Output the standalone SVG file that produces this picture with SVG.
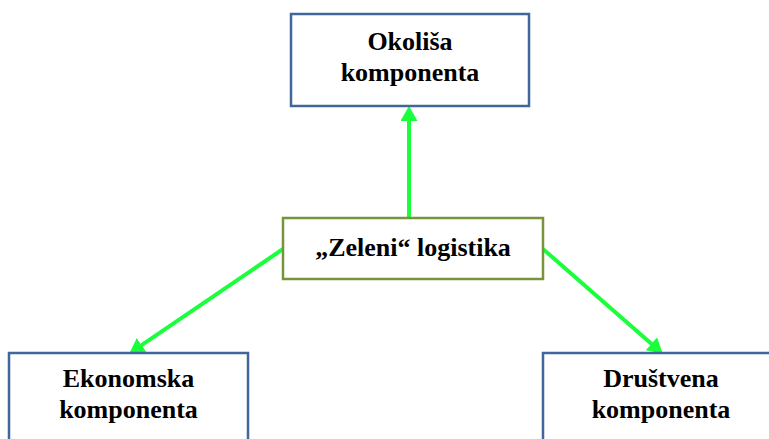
<svg xmlns="http://www.w3.org/2000/svg" width="769" height="439" viewBox="0 0 769 439">
<style>
.bluebox{fill:#ffffff;stroke:#41679a;stroke-width:2.5}
.greenbox{fill:#ffffff;stroke:#77933c;stroke-width:2.5}
.lbl{font-weight:bold;font-size:26px;fill:#000000;text-anchor:middle}
.conn{stroke:#1aff3c;stroke-width:4;fill:none}
</style>
<defs>
<marker id="ah" markerUnits="userSpaceOnUse" markerWidth="16" markerHeight="18" viewBox="0 0 16 18" refX="4" refY="8.5" orient="auto">
<path d="M0,0 L15,8.5 L0,17 z" fill="#1aff3c"/>
</marker>
</defs>
<rect width="769" height="439" fill="#ffffff"/>
<g id="connectors">
<line class="conn" x1="409" y1="218" x2="409" y2="117" marker-end="url(#ah)"/>
<line class="conn" x1="283" y1="249" x2="138.3" y2="347.4" marker-end="url(#ah)"/>
<line class="conn" x1="543" y1="249" x2="654.5" y2="346.4" marker-end="url(#ah)"/>
</g>
<g font-family="'Liberation Serif', 'DejaVu Serif', serif">
<g id="okolisa">
<rect class="bluebox" x="291" y="14" width="238" height="92"/>
<text class="lbl" x="410" y="50">Okoliša</text>
<text class="lbl" x="410" y="81">komponenta</text>
</g>
<g id="zeleni">
<rect class="greenbox" x="283" y="218" width="260" height="61"/>
<text class="lbl" x="413" y="256">„Zeleni“ logistika</text>
</g>
<g id="ekonomska">
<rect class="bluebox" x="9" y="353" width="239" height="100"/>
<text class="lbl" x="128.5" y="387">Ekonomska</text>
<text class="lbl" x="128.5" y="418">komponenta</text>
</g>
<g id="drustvena">
<rect class="bluebox" x="543" y="353" width="236" height="100"/>
<text class="lbl" x="661" y="387">Društvena</text>
<text class="lbl" x="661" y="418">komponenta</text>
</g>
</g>
</svg>
